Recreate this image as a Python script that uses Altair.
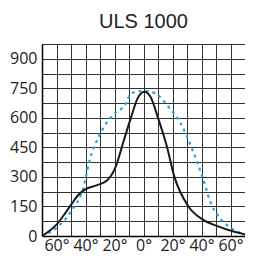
import altair as alt
import pandas as pd

# Solid black curve (angle in degrees, value)
black_angle = [-70, -60, -50, -45, -41, -32, -25, -19, -14, -8.7, -4, 0.5, 4.7, 10, 16, 21, 31, 41, 51, 61, 70]
black_value = [0, 58, 158, 208, 233, 258, 283, 355, 475, 600, 700, 733, 708, 600, 458, 308, 150, 83, 50, 25, 8]

# Dashed blue curve
blue_angle = [-70, -60, -50, -41, -37.5, -30, -22, -12, -8.7, 0.9, 8, 17, 26, 33.5, 41, 46, 52.5, 60, 69]
blue_value = [0, 42, 125, 258, 375, 517, 608, 675, 725, 737, 725, 658, 567, 442, 292, 175, 92, 42, 8]

x_ticks = list(range(-70, 71, 10))
y_ticks = list(range(0, 976, 75))

df_black = pd.DataFrame({"angle": black_angle, "value": black_value})
df_blue = pd.DataFrame({"angle": blue_angle, "value": blue_value})

x_scale = alt.Scale(domain=[-70, 70], nice=False, zero=False)
y_scale = alt.Scale(domain=[0, 975], nice=False)

x_axis = alt.Axis(
    values=x_ticks,
    title=None,
    grid=True,
    gridColor="#333333",
    gridWidth=1,
    gridOpacity=1,
    ticks=False,
    domainColor="#000000",
    domainWidth=1.5,
    labelFont="Open Sans",
    labelFontSize=16,
    labelColor="#222222",
    labelPadding=1,
    labelExpr="(abs(datum.value) % 20 == 0 && abs(datum.value) <= 60) ? abs(datum.value) + '°' : ''",
)
y_axis = alt.Axis(
    values=y_ticks,
    title=None,
    grid=True,
    gridColor="#333333",
    gridWidth=1,
    gridOpacity=1,
    ticks=False,
    domainColor="#000000",
    domainWidth=1.5,
    labelFont="Open Sans",
    labelFontSize=16,
    labelColor="#222222",
    labelPadding=5,
    labelExpr="datum.value % 150 == 0 ? datum.value : ''",
)

blue = alt.Chart(df_blue).mark_line(
    color="#27A6E0", strokeWidth=2.2, strokeDash=[3, 4], interpolate="monotone"
).encode(
    x=alt.X("angle:Q", scale=x_scale, axis=x_axis),
    y=alt.Y("value:Q", scale=y_scale, axis=y_axis),
)

black = alt.Chart(df_black).mark_line(
    color="#1a1a1a", strokeWidth=2, interpolate="monotone"
).encode(
    x=alt.X("angle:Q", scale=x_scale, axis=x_axis),
    y=alt.Y("value:Q", scale=y_scale, axis=y_axis),
)

chart = alt.layer(blue, black).properties(
    width=203,
    height=192,
    autosize=alt.AutoSizeParams(type="none"),
    padding={"left": 34, "top": 36, "right": 0, "bottom": 23},
    title=alt.TitleParams(
        "ULS 1000", font="Liberation Sans", fontSize=20, fontWeight="normal",
        color="#222222", anchor="middle", offset=12,
    ),
).configure_view(stroke=None)

chart.save("out.html", embed_options={"renderer": "svg", "actions": False})
